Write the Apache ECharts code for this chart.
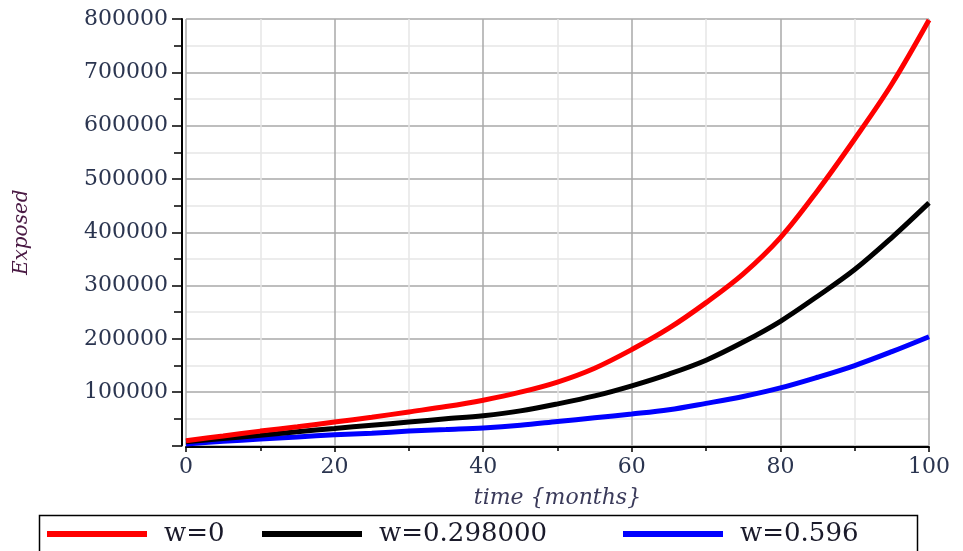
<!DOCTYPE html>
<html>
<head>
<meta charset="utf-8">
<script src="https://cdn.jsdelivr.net/npm/echarts@6/dist/echarts.min.js"></script>
<style>
  html, body { margin: 0; padding: 0; background: #fff; }
  #chart { width: 963px; height: 551px; }
</style>
</head>
<body>
<div id="chart"></div>
<script>
// time in months
const months = [0, 5, 10, 15, 20, 25, 30, 35, 40, 45, 50, 55, 60, 65, 70, 75, 80, 85, 90, 95, 100]
// Exposed
const exposedW0 = [9000, 18000, 27000, 35000, 44000, 53000, 63000, 73000, 85000, 100000, 119000, 145000, 180000, 220000, 268000, 322000, 390000, 478000, 575000, 678000, 798000]
const exposedW298 = [7000, 13000, 19000, 26000, 32000, 38000, 44000, 50000, 56000, 65000, 78000, 93000, 112000, 134000, 160000, 194000, 233000, 280000, 330000, 390000, 455000]
const exposedW596 = [3000, 8000, 12000, 16000, 20000, 23000, 27000, 30000, 33000, 38000, 45000, 52000, 59000, 67000, 79000, 92000, 108000, 128000, 150000, 176000, 204000]
const seriesNames = ['w=0', 'w=0.298000', 'w=0.596']
// left edge of each legend entry
const legendLefts = [47, 262, 623]

const pair = (ys) => months.map((m, i) => [m, ys[i]])

const labelFont = {
  color: '#2b3550',
  fontFamily: 'DejaVu Serif',
  fontSize: 22
}

const legends = seriesNames.map((name, i) => ({
  left: legendLefts[i],
  top: 521,
  padding: 0,
  itemWidth: 100,
  itemHeight: 6,
  icon: 'rect',
  textStyle: {
    color: '#1a1a2a',
    fontFamily: 'DejaVu Serif',
    fontSize: 26,
    padding: [0, 0, 0, 12]
  },
  data: [name]
}))

const option = {
  animation: false,
  backgroundColor: '#fff',
  grid: { // plot area
    left: 186,
    right: 34,
    top: 19,
    bottom: 105.5
  },
  graphic: [
    { // legend frame
      type: 'rect',
      left: 37,
      top: 513,
      shape: { width: 878, height: 46 },
      style: { fill: 'none', stroke: '#000', lineWidth: 1.5 },
      silent: true
    }
  ],
  legend: legends,
  xAxis: {
    type: 'value',
    min: 0,
    max: 100,
    interval: 20,
    offset: 1.5,
    name: 'time {months}',
    nameLocation: 'middle',
    nameGap: 40,
    nameTextStyle: {
      color: '#3a3a5a',
      fontFamily: 'DejaVu Serif',
      fontStyle: 'italic',
      fontSize: 22
    },
    axisLine: { show: true, onZero: false, lineStyle: { color: '#000', width: 2 } },
    axisTick: { show: true, length: 5, lineStyle: { color: '#000', width: 1.5 } },
    minorTick: { show: true, splitNumber: 2, length: 4, lineStyle: { color: '#000', width: 1.5 } },
    axisLabel: Object.assign({ margin: 9 }, labelFont),
    splitLine: { show: true, lineStyle: { color: '#a8a8a8', width: 1.5 } },
    minorSplitLine: { show: true, lineStyle: { color: '#e6e6e6', width: 1.5 } }
  },
  yAxis: {
    type: 'value',
    min: 0,
    max: 800000,
    interval: 100000,
    offset: 4,
    name: 'Exposed',
    nameLocation: 'middle',
    nameRotate: 90,
    nameGap: 150,
    nameTextStyle: {
      color: '#4a1a44',
      fontFamily: 'DejaVu Serif',
      fontStyle: 'italic',
      fontSize: 20
    },
    axisLine: { show: true, onZero: false, lineStyle: { color: '#000', width: 2 } },
    axisTick: { show: true, length: 10, lineStyle: { color: '#000', width: 1.5 } },
    minorTick: { show: true, splitNumber: 2, length: 8, lineStyle: { color: '#000', width: 1.5 } },
    axisLabel: Object.assign({
      margin: 14,
      formatter: (v) => (v === 0 ? '' : String(v))
    }, labelFont),
    splitLine: { show: true, lineStyle: { color: '#a8a8a8', width: 1.5 } },
    minorSplitLine: { show: true, lineStyle: { color: '#e6e6e6', width: 1.5 } }
  },
  series: [
    {
      name: seriesNames[0],
      type: 'line',
      smooth: 0.35,
      showSymbol: false,
      color: '#ff0000',
      lineStyle: { color: '#ff0000', width: 5 },
      data: pair(exposedW0),
      z: 4
    },
    {
      name: seriesNames[1],
      type: 'line',
      smooth: 0.35,
      showSymbol: false,
      color: '#000000',
      lineStyle: { color: '#000000', width: 5 },
      data: pair(exposedW298),
      z: 3
    },
    {
      name: seriesNames[2],
      type: 'line',
      smooth: 0.35,
      showSymbol: false,
      color: '#0000ff',
      lineStyle: { color: '#0000ff', width: 5 },
      data: pair(exposedW596),
      z: 2
    }
  ]
}

const myChart = echarts.init(document.getElementById('chart'))
myChart.setOption(option)
</script>
</body>
</html>
